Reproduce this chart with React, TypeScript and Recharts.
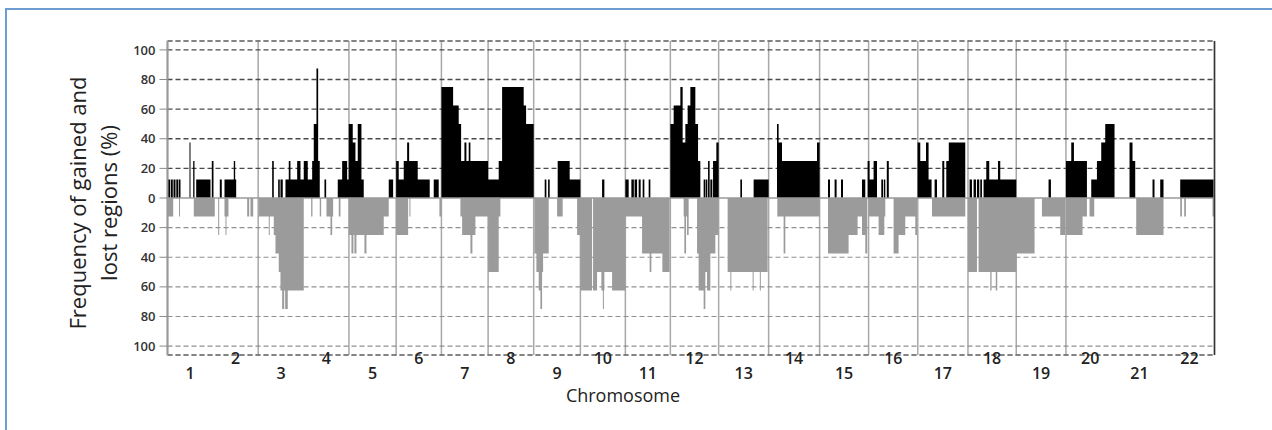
import React from 'react';
import {
  ComposedChart, Area, XAxis, YAxis, CartesianGrid, ReferenceLine,
} from 'recharts';

const chromosomes = ['1', '2', '3', '4', '5', '6', '7', '8', '9', '10', '11',
  '12', '13', '14', '15', '16', '17', '18', '19', '20', '21', '22'];

// width of each chromosome along the genome axis (plot units)
const chromLengths = [45.3, 45.4, 45.6, 45.2, 47.2, 45.3, 46.7, 45.6, 46.7, 45, 45,
  48.3, 50, 51, 49, 49.2, 50.2, 48.3, 49.7, 48.6, 50, 50];

const yTicks = [-100, -80, -60, -40, -20, 0, 20, 40, 60, 80, 100];
const gainGrid = [20, 40, 60, 80, 100];
const lossGrid = [-100, -80, -60, -40, -20];

// [start, end, % of samples] on the genome axis
const gains: [number, number, number][] = [
  // 1
  [0.3, 2.5, 12.5], [3.2, 5.3, 12.5], [6, 8, 12.5], [8.8, 10.7, 12.5], [11.3, 13, 12.5],
  [22, 23, 37.5], [25.7, 27, 25], [28.7, 43, 12.5], [44.3, 46, 25],
  // 2
  [52.3, 54.3, 12.5], [57, 68.7, 12.5], [66.3, 67.7, 25],
  // 3
  [104.7, 106.3, 25], [110.7, 112.3, 12.5], [113, 115.3, 12.5], [118, 136.3, 12.5],
  [121.3, 123, 25], [129.7, 133, 25],
  // 4
  [136.3, 152.3, 12.5], [136.3, 140.3, 25], [144.7, 152.3, 25], [146.3, 149.7, 50],
  [149, 150.7, 87.5], [157, 158.7, 12.5], [170.3, 196.3, 12.5], [174.7, 179.7, 25],
  // 5
  [181.3, 185.3, 50], [185.3, 188, 37.5], [188, 190.3, 25], [190.3, 194, 50], [221.3, 225.7, 12.5],
  // 6
  [228.7, 262.3, 12.5], [228.7, 231.3, 25], [236.3, 250.3, 25], [239.7, 241.7, 37.5],
  [266.3, 271.3, 12.5],
  // 7
  [274, 285.7, 75], [285.7, 291.3, 62.5], [291.3, 293.7, 50], [293.7, 320.7, 25],
  [297, 299, 37.5], [301.3, 303, 37.5],
  // 8
  [320.7, 331.3, 12.5], [331.3, 334.7, 25], [334.7, 356.3, 75], [356.3, 358.7, 62.5],
  [358.7, 366.3, 50],
  // 9
  [377.3, 379, 12.5], [380.7, 382.3, 12.5], [390.3, 402.3, 25], [402.3, 413, 12.5],
  // 10
  [434.7, 437, 12.5],
  // 11
  [458, 461.3, 12.5], [464, 466.5, 12.5], [467.2, 469.7, 12.5], [471.3, 473.3, 12.5],
  [475.3, 477, 12.5], [481.3, 483, 12.5],
  // 12
  [503, 506.3, 50], [506.3, 513, 62.5], [513, 515.3, 75], [515.3, 518, 37.5], [518, 520.3, 50],
  [520.3, 523, 62.5], [523, 528, 75], [528, 530.7, 50], [530.7, 533, 25], [536.3, 538, 12.5],
  [538.5, 540, 12.5], [540.7, 542.3, 25], [543, 545, 12.5], [545.7, 549, 25], [549, 551.3, 37.5],
  // 13
  [573, 574.7, 12.5], [586.3, 601.3, 12.5],
  // 14
  [609.7, 611.3, 50], [611.3, 614.7, 37.5], [614.7, 649.7, 25], [649.7, 652.3, 37.5],
  // 15
  [660.7, 662.7, 12.5], [667.3, 669.3, 12.5], [673.7, 675.7, 12.5], [694.7, 698, 12.5],
  // 16
  [700.3, 702.3, 25], [702.3, 706.3, 12.5], [706.3, 709.7, 25], [714, 715.7, 12.5],
  [716.5, 718, 12.5], [719.5, 721.5, 25],
  // 17
  [750.3, 753, 37.5], [753, 758.7, 25], [758.7, 761.3, 37.5], [761.3, 764.3, 12.5],
  [767.3, 769.7, 12.5], [775, 777, 25], [779, 781.5, 25], [781.5, 798, 37.5],
  // 18
  [802.3, 804.7, 12.5], [806.3, 808.7, 12.5], [809.7, 812, 12.5], [813, 814.7, 12.5],
  [816.3, 849, 12.5], [819, 822, 25], [830.7, 833, 25],
  // 19
  [881.3, 883.7, 12.5],
  // 20
  [898.7, 919.7, 25], [904, 906.7, 37.5], [924, 929.7, 12.5], [929.7, 934, 25],
  [934, 938, 37.5], [938, 947.3, 50],
  // 21
  [962.3, 965.3, 37.5], [965.3, 968, 25], [985.3, 987.3, 12.5], [993, 996.3, 12.5],
  // 22
  [1013, 1046.3, 12.5],
];

const losses: [number, number, number][] = [
  // 1
  [0.3, 5.7, -12.5], [11.5, 12.5, -12.5], [26.3, 47.3, -12.5],
  // 2
  [50.7, 51.7, -25], [57, 61, -12.5], [58, 59, -25], [79.7, 81.7, -12.5], [83, 85.7, -12.5],
  // 3
  [91.3, 106.3, -12.5], [101.3, 102.3, -25], [106.3, 111.3, -25], [108, 111.3, -37.5],
  [111.3, 113, -50], [113, 136.3, -62.5], [114.7, 116.7, -75], [117.7, 120.3, -75],
  // 4
  [143.7, 145, -12.5], [152.3, 153.7, -12.5], [159, 165.7, -12.5], [163, 164.7, -25],
  [171.3, 173, -12.5],
  // 5
  [181.3, 216.3, -25], [184, 186, -37.5], [187, 189, -37.5], [197, 199, -37.5], [216.3, 221.3, -12.5],
  // 6
  [228.7, 240.7, -25], [242, 243, -12.5], [272, 274, -12.5],
  // 7
  [293, 320.7, -12.5], [294.7, 308, -25], [303, 305, -37.5],
  // 8
  [320.7, 331.3, -50], [331.3, 333, -12.5],
  // 9
  [367, 381.3, -37.5], [369, 375.7, -50], [371.3, 374.7, -62.5], [373, 374.7, -75],
  [389.7, 395.3, -12.5], [409.7, 413, -25],
  // 10
  [413, 424.7, -62.5], [425.7, 429.7, -62.5], [429.7, 434, -50], [434, 437, -62.5],
  [435.5, 436.5, -75], [437, 444.7, -50], [444.7, 458, -62.5],
  // 11
  [458, 474.7, -12.5], [474.7, 495, -37.5], [482.3, 484, -50], [495, 502.3, -50],
  // 12
  [516.3, 521.3, -12.5], [517, 518.7, -37.5], [519.7, 521.3, -25], [529.7, 551.3, -12.5],
  [529.7, 531.3, -37.5], [531.3, 537.3, -62.5], [536.3, 538, -75], [537.3, 539.7, -50],
  [539.7, 543, -62.5], [543, 548, -37.5], [548, 551.3, -25],
  // 13
  [560.3, 600.3, -50], [563, 564, -62.5], [585.3, 586.3, -62.5], [592.5, 593.5, -62.5],
  // 14
  [610, 652.3, -12.5], [616.3, 618, -37.5],
  // 15
  [660.7, 681.3, -37.5], [681.3, 690.3, -25], [690.3, 694.7, -12.5], [694.7, 698, -25],
  [698, 700, -37.5],
  // 16
  [701.3, 718, -12.5], [711.3, 717, -25], [726.3, 731.3, -37.5], [731.3, 738, -25],
  [738, 749.7, -12.5], [748, 749.7, -25],
  // 17
  [764.7, 798, -12.5],
  // 18
  [800.7, 809.7, -50], [811.3, 849, -50], [823, 824.3, -62.5], [828.5, 830, -62.5],
  // 19
  [849, 867.3, -37.5], [874.7, 898, -12.5], [893, 898, -25],
  // 20
  [898.7, 915.3, -25], [915.3, 919.7, -12.5], [922.3, 927, -12.5],
  // 21
  [969, 996.3, -25],
  // 22
  [1013, 1014.7, -12.5], [1017, 1018.7, -12.5], [1045.3, 1047.3, -12.5],
];

const total = chromLengths.reduce((a, b) => a + b, 0);
const bounds = chromLengths.reduce((acc, len) => [...acc, acc[acc.length - 1] + len], [0]);
const centers = chromLengths.map((len, i) => bounds[i] + len / 2);

// step data: value holding from each breakpoint to the next
const xs = Array.from(new Set(
  [...gains, ...losses].flatMap(([s, e]) => [s, e]).concat([0, total]),
)).sort((a, b) => a - b);
const data = xs.map((x) => {
  let gain = 0;
  let loss = 0;
  gains.forEach(([s, e, v]) => { if (s <= x && x < e) gain = Math.max(gain, v); });
  losses.forEach(([s, e, v]) => { if (s <= x && x < e) loss = Math.min(loss, v); });
  return { x, gain, loss };
});

const ChromTick = (props: any) => {
  const { x, y, index } = props;
  const low = index % 2 === 0;
  return (
    <text x={x} y={y + (low ? 24 : 9)} textAnchor="middle" fontSize={16}
      fontWeight={600} fill="#222" fontFamily="Open Sans">
      {chromosomes[index]}
    </text>
  );
};

const rotated = (left: number, text: string) => (
  <div style={{ position: 'absolute', left, top: 203, whiteSpace: 'nowrap',
    transform: 'translate(-50%, -50%) rotate(-90deg)', fontSize: 22, lineHeight: 1, color: '#222' }}>
    {text}
  </div>
);

export default function App() {
  return (
    <div style={{ position: 'fixed', left: 0, top: 0, width: 1272, height: 430,
      background: '#fff', fontFamily: 'Open Sans', overflow: 'hidden' }}>
      <svg width={1272} height={430} style={{ position: 'absolute', left: 0, top: 0 }}>
        <path d="M6 430 V9 H1272" fill="none" stroke="#6d9cd3" strokeWidth={2} />
      </svg>
      <div style={{ position: 'absolute', left: 0, top: 0 }}>
        <ComposedChart width={1272} height={430} data={data}
          margin={{ top: 41, right: 57.5, bottom: 35, left: 0 }}>
          <CartesianGrid xAxisId="bounds" horizontal={false} stroke="#a8a8a8" strokeWidth={1.5} />
          <CartesianGrid yAxisId="pos" vertical={false} stroke="#4a4a4a"
            strokeDasharray="5 3" strokeWidth={1.3} />
          <CartesianGrid yAxisId="neg" vertical={false} stroke="#8f8f8f"
            strokeDasharray="5 3" strokeWidth={1.1} />
          <XAxis type="number" dataKey="x" domain={[0, total]} ticks={centers} interval={0}
            tick={<ChromTick />} axisLine={false} tickLine={false} tickSize={0} tickMargin={0}
            height={40} allowDataOverflow />
          <XAxis xAxisId="bounds" type="number" dataKey="x" domain={[0, total]} ticks={bounds}
            hide allowDataOverflow />
          <YAxis type="number" domain={[-106, 106]} ticks={yTicks} interval={0} width={167.5}
            tickFormatter={(v: number) => String(Math.abs(v))}
            tick={{ fill: '#333', fontSize: 13, fontWeight: 600, fontFamily: 'Open Sans' }}
            tickLine={{ stroke: '#8a8a8a' }} tickSize={8} tickMargin={4}
            axisLine={{ stroke: '#9a9a9a', strokeWidth: 2 }} allowDataOverflow />
          <YAxis yAxisId="pos" type="number" domain={[-106, 106]} ticks={gainGrid} hide allowDataOverflow />
          <YAxis yAxisId="neg" type="number" domain={[-106, 106]} ticks={lossGrid} hide allowDataOverflow />
          <ReferenceLine y={0} stroke="#9a9a9a" strokeWidth={1.5} />
          <Area type="stepAfter" dataKey="gain" fill="#000" fillOpacity={1} stroke="none"
            baseValue={0} dot={false} activeDot={false} isAnimationActive={false} />
          <Area type="stepAfter" dataKey="loss" fill="#9b9b9b" fillOpacity={1} stroke="none"
            baseValue={0} dot={false} activeDot={false} isAnimationActive={false} />
          <ReferenceLine x={total} stroke="#333" strokeWidth={1.5} />
        </ComposedChart>
      </div>
      {rotated(77, 'Frequency of gained and')}
      {rotated(108, 'lost regions (%)')}
      <div style={{ position: 'absolute', left: 623, top: 395, whiteSpace: 'nowrap',
        transform: 'translate(-50%, -50%)', fontSize: 18, lineHeight: 1, color: '#222' }}>
        Chromosome
      </div>
    </div>
  );
}
